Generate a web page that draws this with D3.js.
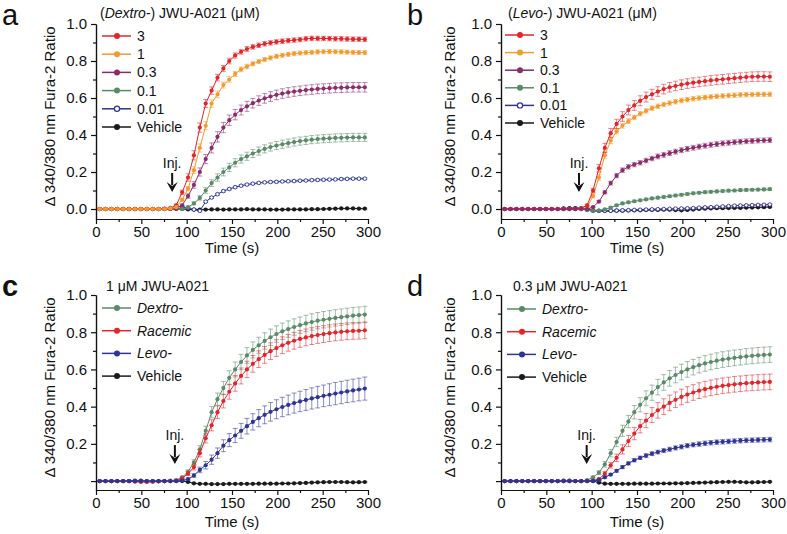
<!doctype html>
<html>
<head>
<meta charset="utf-8">
<style>
  body { margin: 0; background: #fff; }
  svg text { font-family: 'Liberation Sans', Arial, Helvetica, sans-serif; fill: #111; }
  .axis path, .axis line { stroke: #111; stroke-width: 1.2; }
  .axis text { font-size: 15px; fill: #111; }
</style>
<script src="https://d3js.org/d3.v7.min.js"></script>
</head>
<body>
<script>
// sample times (s), shared by all traces
var times = [4,10.5,17,23.5,30,36.5,43,49.5,56,62.5,69,75.5,82,
  88.5,95,101.5,108,114.5,121,127.5,134,140.5,147,153.5,160,166.5,
  173,179.5,186,192.5,199,205.5,212,218.5,225,231.5,238,244.5,251,
  257.5,264,270.5,277,283.5,290,296.5];

var xMajor = [0, 50, 100, 150, 200, 250, 300];
var xMinor = [25, 75, 125, 175, 225, 275];
var yMajor = [0, 0.2, 0.4, 0.6, 0.8, 1.0];
var yMinor = [0.1, 0.3, 0.5, 0.7, 0.9];

/*** panel a : Dextro- ***/
var a3 = [0,0,0,0.001,0,0,0,0,0,0,0,0.002,0.005,
  0.02,0.09,0.17,0.29,0.44,0.57,0.64,0.71,0.76,0.80,0.83,0.85,0.865,
  0.876,0.885,0.893,0.898,0.903,0.907,0.91,0.913,0.916,0.92,0.922,0.922,0.922,
  0.921,0.92,0.92,0.919,0.918,0.918,0.917];
var a3Err = [0.003,0.003,0.003,0.003,0.003,0.003,0.003,0.003,0.003,0.003,0.003,0.003,0.003,
  0.006,0.012,0.02,0.025,0.025,0.022,0.02,0.018,0.016,0.015,0.014,0.013,0.013,
  0.012,0.012,0.012,0.012,0.012,0.012,0.012,0.012,0.012,0.012,0.012,0.012,0.012,
  0.012,0.012,0.012,0.012,0.012,0.012,0.012];
var a1 = [0,0,0,0,0,0,0,0,0,0,0,0,0.003,
  0.01,0.05,0.11,0.21,0.33,0.45,0.57,0.62,0.67,0.70,0.73,0.755,0.77,
  0.785,0.797,0.808,0.817,0.825,0.831,0.836,0.84,0.843,0.845,0.847,0.849,0.85,
  0.851,0.85,0.849,0.848,0.847,0.846,0.845];
var a1Err = [0.003,0.003,0.003,0.003,0.003,0.003,0.003,0.003,0.003,0.003,0.003,0.003,0.003,
  0.004,0.008,0.012,0.018,0.022,0.022,0.02,0.018,0.016,0.015,0.014,0.013,0.012,
  0.011,0.011,0.011,0.011,0.011,0.011,0.011,0.011,0.011,0.011,0.011,0.011,0.011,
  0.011,0.011,0.011,0.011,0.011,0.011,0.011];
var a03 = [0,0,0,0,0,0,0,0,0,0,0,0,0,
  0.003,0.02,0.07,0.13,0.20,0.27,0.33,0.39,0.44,0.48,0.51,0.535,0.555,
  0.572,0.586,0.598,0.608,0.617,0.624,0.63,0.635,0.639,0.643,0.646,0.649,0.651,
  0.653,0.655,0.656,0.657,0.658,0.658,0.658];
var a03Err = [0.003,0.003,0.003,0.003,0.003,0.003,0.003,0.003,0.003,0.003,0.003,0.003,0.003,
  0.003,0.006,0.012,0.018,0.022,0.025,0.027,0.028,0.028,0.028,0.028,0.027,0.027,
  0.026,0.026,0.026,0.026,0.026,0.026,0.026,0.026,0.026,0.026,0.026,0.026,0.026,
  0.026,0.026,0.026,0.026,0.026,0.026,0.026];
var a01 = [0,0,0,0,0,0,0,0,0,0,0,0,0,
  0,0,0.01,0.03,0.06,0.10,0.14,0.17,0.20,0.225,0.25,0.27,0.285,
  0.30,0.313,0.325,0.335,0.343,0.35,0.356,0.362,0.367,0.371,0.375,0.378,0.38,
  0.382,0.384,0.385,0.386,0.387,0.387,0.387];
var a01Err = [0.003,0.003,0.003,0.003,0.003,0.003,0.003,0.003,0.003,0.003,0.003,0.003,0.003,
  0.003,0.003,0.005,0.008,0.012,0.015,0.018,0.02,0.021,0.022,0.022,0.022,0.022,
  0.022,0.022,0.022,0.022,0.022,0.022,0.022,0.022,0.022,0.022,0.022,0.022,0.022,
  0.022,0.022,0.022,0.022,0.022,0.022,0.022];
var a001 = [0,0,0,0,0,0,0,0,0,0,0,0,0.005,
  0.015,0.012,0.005,-0.003,-0.01,0.04,0.062,0.08,0.097,0.108,0.118,0.126,0.132,
  0.137,0.141,0.144,0.146,0.147,0.149,0.15,0.151,0.153,0.154,0.156,0.157,0.158,
  0.159,0.16,0.162,0.163,0.164,0.164,0.164];
var a001Err = [0.003,0.003,0.003,0.003,0.003,0.003,0.003,0.003,0.003,0.003,0.003,0.003,0.003,
  0.004,0.004,0.004,0.004,0.004,0.005,0.005,0.005,0.005,0.005,0.005,0.005,0.005,
  0.005,0.005,0.005,0.005,0.005,0.005,0.005,0.005,0.005,0.005,0.005,0.005,0.005,
  0.005,0.005,0.005,0.005,0.005,0.005,0.005];
var aVeh = [0,0,0,0,0,0,0,0,0,0,0,0,0,
  0,0,-0.002,-0.003,-0.003,-0.003,-0.002,-0.002,-0.003,-0.002,-0.002,-0.002,-0.001,
  -0.002,-0.002,-0.002,-0.003,-0.003,-0.003,-0.002,-0.002,-0.002,-0.002,-0.001,-0.001,0,
  0.001,0.002,0.003,0.003,0.003,0.002,0.002];
var aVehErr = [0.003,0.003,0.003,0.003,0.003,0.003,0.003,0.003,0.003,0.003,0.003,0.003,0.003,
  0.003,0.003,0.003,0.003,0.003,0.003,0.003,0.003,0.003,0.003,0.003,0.003,0.003,
  0.003,0.003,0.003,0.003,0.003,0.003,0.003,0.003,0.003,0.003,0.003,0.003,0.003,
  0.003,0.003,0.003,0.003,0.003,0.003,0.003];

/*** panel b : Levo- ***/
var b3 = [0,0,0,0,0,0,0,0,0,0,0,0,0,
  0.005,0.02,0.10,0.22,0.33,0.41,0.46,0.50,0.535,0.56,0.585,0.605,0.62,
  0.635,0.648,0.658,0.665,0.672,0.678,0.683,0.687,0.691,0.695,0.698,0.701,0.704,
  0.707,0.71,0.713,0.715,0.716,0.716,0.715];
var b3Err = [0.003,0.003,0.003,0.003,0.003,0.003,0.003,0.003,0.003,0.003,0.003,0.003,0.003,
  0.004,0.006,0.012,0.02,0.025,0.025,0.025,0.026,0.027,0.027,0.027,0.027,0.027,
  0.026,0.026,0.026,0.026,0.026,0.026,0.026,0.026,0.026,0.026,0.026,0.026,0.026,
  0.026,0.026,0.026,0.026,0.026,0.026,0.026];
var b1 = [0,0,0,0,0,0,0,0,0,0,0,0,0,
  0,0.01,0.07,0.17,0.29,0.37,0.42,0.45,0.475,0.495,0.515,0.53,0.545,
  0.555,0.565,0.573,0.58,0.586,0.591,0.596,0.60,0.603,0.606,0.609,0.611,0.613,
  0.615,0.617,0.618,0.619,0.62,0.62,0.62];
var b1Err = [0.003,0.003,0.003,0.003,0.003,0.003,0.003,0.003,0.003,0.003,0.003,0.003,0.003,
  0.003,0.005,0.01,0.015,0.018,0.016,0.014,0.013,0.013,0.012,0.012,0.012,0.012,
  0.012,0.012,0.012,0.012,0.012,0.012,0.012,0.012,0.012,0.012,0.012,0.012,0.012,
  0.012,0.012,0.012,0.012,0.012,0.012,0.012];
var b03 = [0,0,0,0,0,0,0,0,0,0,0,0,0,
  0,0,0.01,0.04,0.09,0.14,0.18,0.21,0.228,0.24,0.25,0.262,0.273,
  0.284,0.293,0.302,0.31,0.318,0.325,0.331,0.337,0.342,0.347,0.351,0.355,0.358,
  0.361,0.364,0.366,0.368,0.37,0.371,0.372];
var b03Err = [0.003,0.003,0.003,0.003,0.003,0.003,0.003,0.003,0.003,0.003,0.003,0.003,0.003,
  0.003,0.003,0.004,0.006,0.008,0.01,0.011,0.012,0.012,0.012,0.012,0.012,0.012,
  0.013,0.013,0.013,0.013,0.013,0.013,0.013,0.013,0.013,0.013,0.013,0.013,0.013,
  0.013,0.013,0.013,0.013,0.013,0.013,0.013];
var b01 = [0,0,0,0,0,0,0,0,0,0,0,0,0,
  0,-0.005,-0.01,-0.008,-0.002,0.008,0.02,0.03,0.036,0.042,0.047,0.052,0.057,
  0.061,0.065,0.069,0.073,0.077,0.081,0.085,0.088,0.091,0.093,0.095,0.097,0.099,
  0.10,0.102,0.103,0.104,0.105,0.106,0.107];
var b01Err = [0.003,0.003,0.003,0.003,0.003,0.003,0.003,0.003,0.003,0.003,0.003,0.003,0.003,
  0.004,0.004,0.004,0.004,0.004,0.005,0.005,0.005,0.006,0.006,0.006,0.006,0.006,
  0.007,0.007,0.007,0.007,0.007,0.007,0.007,0.007,0.007,0.007,0.007,0.007,0.007,
  0.007,0.007,0.007,0.007,0.007,0.007,0.007];
var b001 = [0,0,0,0,0,0,0,0,0,0,0,0,0,
  0,-0.005,-0.01,-0.01,-0.01,-0.009,-0.008,-0.007,-0.006,-0.005,-0.004,-0.003,-0.002,
  -0.001,0,0.001,0.002,0.003,0.004,0.005,0.007,0.009,0.01,0.012,0.014,0.016,
  0.018,0.019,0.02,0.021,0.022,0.023,0.024];
var b001Err = [0.003,0.003,0.003,0.003,0.003,0.003,0.003,0.003,0.003,0.003,0.003,0.003,0.003,
  0.003,0.003,0.003,0.003,0.003,0.003,0.003,0.003,0.003,0.003,0.003,0.003,0.003,
  0.003,0.003,0.003,0.003,0.003,0.003,0.003,0.003,0.003,0.003,0.003,0.003,0.003,
  0.003,0.003,0.003,0.003,0.003,0.003,0.003];
var bVeh = [0,0,0,0,0,0,0,0,0,0,0.003,0.005,0.005,
  0.004,0,-0.008,-0.01,-0.01,-0.01,-0.009,-0.009,-0.008,-0.008,-0.007,-0.006,-0.005,
  -0.005,-0.004,-0.004,-0.006,-0.007,-0.005,-0.003,0,0.002,0.003,0.004,0.004,0.005,
  0.006,0.006,0.007,0.008,0.009,0.01,0.011];
var bVehErr = [0.003,0.003,0.003,0.003,0.003,0.003,0.003,0.003,0.003,0.003,0.003,0.003,0.003,
  0.003,0.003,0.003,0.003,0.003,0.003,0.003,0.003,0.003,0.003,0.003,0.003,0.003,
  0.003,0.003,0.003,0.003,0.003,0.003,0.003,0.003,0.003,0.003,0.003,0.003,0.003,
  0.003,0.003,0.003,0.003,0.003,0.003,0.003];

/*** panel c : 1 uM ***/
var cDex = [0,0,0,0,0,0,0,0,0,0,0,0,0.002,
  0.005,0.02,0.05,0.10,0.17,0.27,0.37,0.44,0.50,0.555,0.60,0.64,0.675,
  0.705,0.73,0.753,0.773,0.79,0.805,0.817,0.828,0.838,0.847,0.855,0.862,0.867,
  0.872,0.877,0.881,0.885,0.889,0.892,0.895];
var cDexErr = [0.003,0.003,0.003,0.003,0.003,0.003,0.003,0.003,0.003,0.003,0.003,0.003,0.003,
  0.004,0.006,0.01,0.015,0.02,0.025,0.03,0.033,0.036,0.038,0.04,0.041,0.042,
  0.043,0.043,0.044,0.044,0.044,0.044,0.044,0.044,0.044,0.044,0.044,0.044,0.044,
  0.044,0.044,0.044,0.044,0.044,0.044,0.044];
var cRac = [0,0,0,0,0,0,-0.003,-0.005,-0.005,-0.004,-0.002,0,0,
  0.003,0.015,0.04,0.075,0.15,0.23,0.30,0.37,0.43,0.48,0.525,0.565,0.60,
  0.63,0.655,0.678,0.698,0.715,0.73,0.743,0.754,0.764,0.772,0.779,0.785,0.79,
  0.795,0.799,0.802,0.805,0.807,0.808,0.81];
var cRacErr = [0.003,0.003,0.003,0.003,0.003,0.003,0.003,0.003,0.003,0.003,0.003,0.003,0.003,
  0.004,0.006,0.01,0.015,0.02,0.025,0.03,0.034,0.037,0.04,0.042,0.043,0.044,
  0.045,0.045,0.045,0.045,0.045,0.045,0.045,0.045,0.045,0.045,0.045,0.045,0.045,
  0.045,0.045,0.045,0.045,0.045,0.045,0.045];
var cLevo = [0,0,0,0,0,0,0,0,0,0,0,0,0,
  0,0.003,0.01,0.03,0.06,0.085,0.115,0.15,0.19,0.22,0.245,0.27,0.295,
  0.318,0.338,0.356,0.372,0.386,0.398,0.409,0.419,0.428,0.436,0.444,0.451,0.458,
  0.464,0.47,0.476,0.482,0.487,0.492,0.497];
var cLevoErr = [0.003,0.003,0.003,0.003,0.003,0.003,0.003,0.003,0.003,0.003,0.003,0.003,0.003,
  0.003,0.004,0.006,0.01,0.015,0.02,0.025,0.028,0.032,0.035,0.038,0.04,0.042,
  0.044,0.046,0.048,0.05,0.051,0.052,0.053,0.054,0.055,0.056,0.057,0.058,0.058,
  0.059,0.06,0.06,0.06,0.061,0.061,0.062];
var cVeh = [0,0,0,0,0,0,0.002,0.002,0,0,0,0,0,
  0,0,-0.005,-0.012,-0.015,-0.015,-0.016,-0.016,-0.016,-0.015,-0.015,-0.015,-0.015,
  -0.015,-0.014,-0.014,-0.014,-0.014,-0.013,-0.013,-0.012,-0.011,-0.01,-0.008,-0.007,-0.006,
  -0.005,-0.005,-0.005,-0.006,-0.007,-0.006,-0.005];
var cVehErr = [0.003,0.003,0.003,0.003,0.003,0.003,0.003,0.003,0.003,0.003,0.003,0.003,0.003,
  0.003,0.003,0.003,0.003,0.003,0.003,0.003,0.003,0.003,0.003,0.003,0.003,0.003,
  0.003,0.003,0.003,0.003,0.003,0.003,0.003,0.003,0.003,0.003,0.003,0.003,0.003,
  0.003,0.003,0.003,0.003,0.003,0.003,0.003];

/*** panel d : 0.3 uM ***/
var dDex = [0,0,0,0,0,0,0,0,0,0,0,0,0,
  0,0.005,0.02,0.045,0.09,0.15,0.21,0.27,0.32,0.37,0.41,0.445,0.475,
  0.505,0.53,0.552,0.57,0.586,0.60,0.612,0.623,0.632,0.64,0.647,0.653,0.658,
  0.662,0.666,0.67,0.673,0.676,0.678,0.68];
var dDexErr = [0.003,0.003,0.003,0.003,0.003,0.003,0.003,0.003,0.003,0.003,0.003,0.003,0.003,
  0.003,0.004,0.006,0.01,0.015,0.02,0.025,0.03,0.033,0.036,0.038,0.04,0.041,
  0.042,0.042,0.042,0.042,0.042,0.042,0.042,0.042,0.042,0.042,0.042,0.042,0.042,
  0.042,0.042,0.042,0.042,0.042,0.042,0.042];
var dRac = [0,0,0,0,0,0,0,0,0,0,0,0,0,
  0,0,0.003,0.01,0.04,0.085,0.125,0.17,0.215,0.255,0.295,0.325,0.355,
  0.38,0.40,0.42,0.437,0.452,0.465,0.476,0.486,0.494,0.501,0.507,0.512,0.516,
  0.52,0.523,0.526,0.528,0.53,0.532,0.533];
var dRacErr = [0.003,0.003,0.003,0.003,0.003,0.003,0.003,0.003,0.003,0.003,0.003,0.003,0.003,
  0.003,0.003,0.004,0.006,0.01,0.015,0.02,0.025,0.03,0.033,0.036,0.038,0.04,
  0.042,0.042,0.042,0.042,0.042,0.042,0.042,0.042,0.042,0.042,0.042,0.042,0.042,
  0.042,0.042,0.042,0.042,0.042,0.042,0.042];
var dLevo = [0,0,0,0,0,0,0,0,0,0,0,0,0,
  0,0,0,0.005,0.02,0.035,0.055,0.075,0.095,0.112,0.125,0.137,0.147,
  0.156,0.164,0.171,0.178,0.184,0.19,0.195,0.199,0.203,0.206,0.209,0.211,0.213,
  0.215,0.217,0.219,0.22,0.221,0.222,0.223];
var dLevoErr = [0.003,0.003,0.003,0.003,0.003,0.003,0.003,0.003,0.003,0.003,0.003,0.003,0.003,
  0.003,0.003,0.003,0.004,0.005,0.006,0.007,0.008,0.008,0.009,0.009,0.01,0.01,
  0.01,0.01,0.011,0.011,0.011,0.011,0.011,0.012,0.012,0.012,0.012,0.012,0.012,
  0.012,0.012,0.012,0.012,0.012,0.012,0.012];
var dVeh = [0,0,0,0,0,0,0,0,0,0,0.002,0.002,0,
  0,0,0,-0.008,-0.014,-0.015,-0.015,-0.015,-0.015,-0.014,-0.014,-0.014,-0.014,
  -0.013,-0.013,-0.013,-0.012,-0.012,-0.011,-0.01,-0.009,-0.008,-0.007,-0.006,-0.005,-0.004,
  -0.004,-0.005,-0.007,-0.007,-0.006,-0.005,-0.004];
var dVehErr = cVehErr;

var red = "#e2242b", orange = "#f29a2e", purple = "#8b2b6b",
    green = "#5a8a68", blue = "#2e3394", black = "#1a1a1a";

var concLegend = ["3", "1", "0.3", "0.1", "0.01", "Vehicle"];
var formLegend = ["Dextro-", "Racemic", "Levo-", "Vehicle"];

var panels = [
  { letter: "a", bold: false, left: 96, top: 24, bottom: 219, yMin: -0.054, zeroLabel: true,
    inj: 84, xLabelDy: 34, yLabelDx: 41,
    title: [["(", false], ["Dextro", true], ["-) JWU-A021 (\u03bcM)", false]], titleX: 100, titleY: 18,
    legend: { x: 102, y: 36, dy: 18.2, labels: concLegend, italic: false },
    series: [
      { v: a3, e: a3Err, c: red }, { v: a1, e: a1Err, c: orange }, { v: a03, e: a03Err, c: purple },
      { v: a01, e: a01Err, c: green }, { v: a001, e: a001Err, c: blue, open: true }, { v: aVeh, e: aVehErr, c: black }
    ],
    order: [5, 4, 3, 2, 0, 1] },
  { letter: "b", bold: false, left: 501, top: 24, bottom: 219, yMin: -0.054, zeroLabel: true,
    inj: 86, xLabelDy: 34, yLabelDx: 46,
    title: [["(", false], ["Levo", true], ["-) JWU-A021 (\u03bcM)", false]], titleX: 508, titleY: 18,
    legend: { x: 505, y: 35, dy: 17.6, labels: concLegend, italic: false },
    series: [
      { v: b3, e: b3Err, c: red }, { v: b1, e: b1Err, c: orange }, { v: b03, e: b03Err, c: purple },
      { v: b01, e: b01Err, c: green }, { v: b001, e: b001Err, c: blue, open: true }, { v: bVeh, e: bVehErr, c: black }
    ],
    order: [5, 4, 3, 1, 0, 2] },
  { letter: "c", bold: true, left: 96, top: 295, bottom: 490, yMin: -0.048, zeroLabel: false,
    inj: 87, xLabelDy: 37, yLabelDx: 41,
    title: [["1 \u03bcM JWU-A021", false]], titleX: 106, titleY: 291,
    legend: { x: 102, y: 308, dy: 22.7, labels: formLegend, italic: true },
    series: [
      { v: cDex, e: cDexErr, c: green }, { v: cRac, e: cRacErr, c: red },
      { v: cLevo, e: cLevoErr, c: blue }, { v: cVeh, e: cVehErr, c: black }
    ],
    order: [3, 0, 1, 2] },
  { letter: "d", bold: false, left: 501, top: 295, bottom: 490, yMin: -0.048, zeroLabel: false,
    inj: 94.5, xLabelDy: 37, yLabelDx: 46,
    title: [["0.3 \u03bcM JWU-A021", false]], titleX: 513, titleY: 291,
    legend: { x: 507, y: 309, dy: 22.7, labels: formLegend, italic: true },
    series: [
      { v: dDex, e: dDexErr, c: green }, { v: dRac, e: dRacErr, c: red },
      { v: dLevo, e: dLevoErr, c: blue }, { v: dVeh, e: dVehErr, c: black }
    ],
    order: [3, 0, 1, 2] }
];

var svg = d3.select("body").append("svg").attr("width", 787).attr("height", 534);

panels.forEach(drawPanel);

function drawPanel(p) {
  var g = svg.append("g");
  var x = d3.scaleLinear().domain([0, 300]).range([p.left, p.left + 272]);
  var y = d3.scaleLinear().domain([p.yMin, 1]).range([p.bottom, p.top]);
  var fmt = d3.format(".1f");

  // axes
  g.append("g").attr("class", "axis").attr("transform", "translate(0," + p.bottom + ")")
    .call(d3.axisBottom(x).tickValues(xMajor).tickSize(5).tickSizeOuter(0).tickPadding(2));
  g.append("g").attr("class", "axis").attr("transform", "translate(0," + p.bottom + ")")
    .call(d3.axisBottom(x).tickValues(xMinor).tickSize(3).tickSizeOuter(0).tickFormat(""));
  g.append("g").attr("class", "axis").attr("transform", "translate(" + p.left + ",0)")
    .call(d3.axisLeft(y).tickValues(yMajor).tickSize(5).tickSizeOuter(0).tickPadding(4)
      .tickFormat(function(d) { return (d === 0 && !p.zeroLabel) ? "" : fmt(d); }));
  g.append("g").attr("class", "axis").attr("transform", "translate(" + p.left + ",0)")
    .call(d3.axisLeft(y).tickValues(yMinor).tickSize(3).tickSizeOuter(0).tickFormat(""));
  g.selectAll(".axis text").attr("font-family", "'Liberation Sans', Arial, sans-serif");

  g.append("text").attr("x", p.left + 136).attr("y", p.bottom + p.xLabelDy)
    .attr("text-anchor", "middle").style("font-size", "15px").text("Time (s)");
  g.append("text")
    .attr("transform", "translate(" + (p.left - p.yLabelDx) + "," + ((p.top + p.bottom) / 2 - 5) + ") rotate(-90)")
    .attr("text-anchor", "middle").style("font-size", "15px").text("\u0394 340/380 nm Fura-2 Ratio");

  // panel letter and title
  g.append("text").attr("x", p.left - 94).attr("y", p.top + 1)
    .style("font-size", "29px").style("font-weight", p.bold ? "bold" : "normal").text(p.letter);
  var tt = g.append("text").attr("x", p.titleX).attr("y", p.titleY).style("font-size", "14px");
  p.title.forEach(function(part) {
    tt.append("tspan").style("font-style", part[1] ? "italic" : "normal").text(part[0]);
  });

  // traces
  var line = d3.line().x(function(d) { return x(d.t); }).y(function(d) { return y(d.v); });
  p.order.forEach(function(k) {
    var s = p.series[k];
    var pts = times.map(function(t, i) { return { t: t, v: s.v[i], e: s.e[i] }; });
    g.append("g").attr("stroke", s.c).attr("stroke-opacity", 0.55).attr("stroke-width", 1).attr("fill", "none")
      .selectAll("path").data(pts).join("path")
      .attr("d", function(d) {
        var xx = x(d.t), y1 = y(d.v + d.e), y2 = y(d.v - d.e);
        return "M" + xx + "," + y1 + "V" + y2 + "M" + (xx - 2.5) + "," + y1 + "h5M" + (xx - 2.5) + "," + y2 + "h5";
      });
    g.append("path").datum(pts).attr("fill", "none").attr("stroke", s.c).attr("stroke-width", 1).attr("d", line);
    g.append("g").selectAll("circle").data(pts).join("circle")
      .attr("cx", function(d) { return x(d.t); })
      .attr("cy", function(d) { return y(d.v); })
      .attr("r", s.open ? 1.8 : 2.1)
      .attr("fill", s.open ? "#fff" : s.c)
      .attr("stroke", s.open ? s.c : "none").attr("stroke-width", 0.9);
  });

  // legend
  var lg = g.append("g");
  p.series.forEach(function(s, i) {
    var ly = p.legend.y + i * p.legend.dy;
    lg.append("line").attr("x1", p.legend.x).attr("x2", p.legend.x + 29).attr("y1", ly).attr("y2", ly)
      .attr("stroke", s.c).attr("stroke-width", 1.5);
    lg.append("circle").attr("cx", p.legend.x + 15).attr("cy", ly).attr("r", s.open ? 2.6 : 3)
      .attr("fill", s.open ? "#fff" : s.c).attr("stroke", s.open ? s.c : "none").attr("stroke-width", 1.2);
    var lab = p.legend.labels[i];
    lg.append("text").attr("x", p.legend.x + 35).attr("y", ly + 5).style("font-size", "14px")
      .style("font-style", (p.legend.italic && lab !== "Vehicle") ? "italic" : "normal").text(lab);
  });

  // injection arrow
  var ax = x(p.inj), y0 = y(0);
  g.append("text").attr("x", ax).attr("y", y0 - 41).attr("text-anchor", "middle").style("font-size", "14px").text("Inj.");
  g.append("line").attr("x1", ax).attr("x2", ax).attr("y1", y0 - 36).attr("y2", y0 - 24)
    .attr("stroke", "#111").attr("stroke-width", 2);
  g.append("path").attr("d", "M" + (ax - 5.5) + "," + (y0 - 27) + "L" + ax + "," + (y0 - 23) + "L" + (ax + 5.5) + "," + (y0 - 27) + "L" + ax + "," + (y0 - 17) + "Z")
    .attr("fill", "#111");
}
</script>
</body>
</html>
